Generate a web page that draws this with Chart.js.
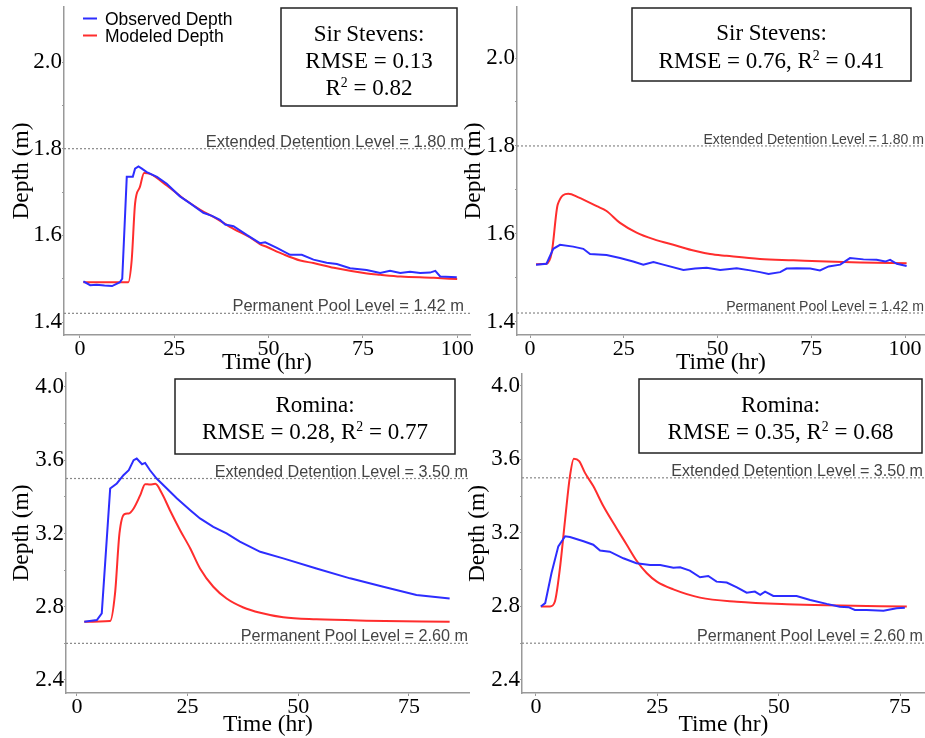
<!DOCTYPE html>
<html>
<head>
<meta charset="utf-8">
<script src="https://cdn.jsdelivr.net/npm/chart.js@4.4.0/dist/chart.umd.min.js"></script>
<style>
  html, body { margin: 0; padding: 0; background: #fff; overflow: hidden; }
  canvas { position: absolute; }
</style>
</head>
<body>
<canvas id="c1" width="482" height="377" style="left:0px;top:0px"></canvas>
<canvas id="c2" width="465" height="377" style="left:460px;top:0px"></canvas>
<canvas id="c3" width="470" height="371" style="left:0px;top:368px"></canvas>
<canvas id="c4" width="465" height="371" style="left:460px;top:368px"></canvas>
<script>
// --- Sir Stevens, event 1 (top left)
const obsHours1 = [0.9, 2.7, 4.4, 6.5, 8.5, 10.6, 11.2, 12.4, 14.0, 14.6, 15.5, 16.4, 17.7, 20.4, 23, 26.5, 29.5, 32.7, 35, 37.1, 38.5, 40.7, 44.2, 47.7, 49.1, 52.2, 55.7, 58.8, 61.9, 65.4, 68.1, 71.6, 76.0, 79.6, 82.2, 84.9, 87.5, 90.2, 92.8, 94.2, 95.5, 99.9];
const obsDepth1 = [1.494, 1.485, 1.486, 1.484, 1.483, 1.492, 1.50, 1.735, 1.735, 1.754, 1.759, 1.754, 1.746, 1.735, 1.719, 1.690, 1.672, 1.652, 1.645, 1.636, 1.625, 1.621, 1.601, 1.582, 1.584, 1.571, 1.555, 1.555, 1.544, 1.537, 1.534, 1.524, 1.520, 1.513, 1.518, 1.513, 1.516, 1.513, 1.514, 1.518, 1.505, 1.503];
const modHours1 = [0.9, 12.8, 13.7, 14.6, 15.9, 17.0, 18.6, 23, 27.4, 31.9, 36.3, 40.7, 45.1, 47.7, 49.6, 54, 58.4, 61.9, 67.3, 76.1, 79.6, 85, 93.8, 100];
const modDepth1 = [1.492, 1.492, 1.542, 1.673, 1.712, 1.744, 1.742, 1.715, 1.685, 1.659, 1.638, 1.615, 1.595, 1.580, 1.573, 1.556, 1.542, 1.536, 1.525, 1.512, 1.509, 1.505, 1.502, 1.499];

// --- Sir Stevens, event 2 (top right)
const obsHours2 = [1.6, 4.4, 6.2, 8.0, 11.5, 14.2, 16.0, 20.4, 24, 27.5, 30.2, 32.9, 35.5, 40.9, 44, 47.1, 50.7, 55.1, 58.7, 61.3, 63.6, 66.7, 68.4, 71.1, 74.7, 77.3, 79.6, 82.7, 85.3, 88.9, 92.4, 94.7, 96, 97.8, 100.4];
const obsDepth2 = [1.530, 1.532, 1.566, 1.575, 1.571, 1.566, 1.554, 1.552, 1.545, 1.537, 1.530, 1.536, 1.530, 1.518, 1.521, 1.523, 1.518, 1.522, 1.517, 1.513, 1.509, 1.513, 1.521, 1.522, 1.521, 1.517, 1.526, 1.530, 1.545, 1.542, 1.541, 1.537, 1.541, 1.532, 1.527];
const modHours2 = [1.6, 4.4, 5.8, 7.4, 10.2, 12.9, 17.8, 20.4, 24, 28.4, 32.9, 39.1, 43.6, 48, 52.4, 61.3, 70.2, 79.1, 88, 100.4];
const modDepth2 = [1.531, 1.532, 1.558, 1.667, 1.691, 1.683, 1.663, 1.652, 1.625, 1.603, 1.588, 1.573, 1.562, 1.554, 1.550, 1.543, 1.540, 1.537, 1.535, 1.533];

// --- Romina, event 1 (bottom left)
const obsHours3 = [1.65, 4.5, 5.6, 7.5, 9, 10.5, 11.7, 12.8, 13.5, 14.7, 15.4, 16.5, 18, 20.3, 22.6, 25.6, 27.8, 30.8, 33.8, 36.8, 41.4, 46.6, 54.1, 61.7, 69.2, 76.7, 84.2];
const obsDepth3 = [2.718, 2.727, 2.764, 3.445, 3.473, 3.518, 3.545, 3.600, 3.609, 3.578, 3.585, 3.545, 3.500, 3.445, 3.391, 3.327, 3.282, 3.236, 3.200, 3.155, 3.100, 3.064, 3.009, 2.955, 2.909, 2.864, 2.845];
const modHours3 = [1.65, 7.5, 8.6, 9.6, 10.7, 11.7, 12.8, 14.3, 15.4, 16.5, 17.7, 19.2, 21, 23.3, 25.6, 27.8, 30.8, 33.8, 37.6, 41.4, 46.6, 54.1, 65.4, 84.2];
const modDepth3 = [2.718, 2.722, 2.873, 3.200, 3.305, 3.309, 3.336, 3.409, 3.469, 3.467, 3.471, 3.418, 3.327, 3.218, 3.118, 3.009, 2.909, 2.845, 2.796, 2.767, 2.742, 2.731, 2.724, 2.718];

// --- Romina, event 2 (bottom right)
const obsHours4 = [1, 1.9, 3.2, 4.6, 6, 7, 9.8, 11.8, 13.2, 15.2, 18.0, 20.7, 23.5, 25.6, 28.3, 29.7, 31.7, 33.8, 35.5, 37.2, 39.3, 41.4, 43.4, 45.1, 46.2, 47.2, 48.9, 53.7, 56.5, 59.9, 62.6, 64.4, 65.7, 68.1, 71.6, 74.3, 76.0];
const obsDepth4 = [2.800, 2.818, 2.982, 3.127, 3.182, 3.178, 3.155, 3.136, 3.104, 3.098, 3.062, 3.035, 3.026, 3.026, 3.011, 3.013, 2.995, 2.959, 2.966, 2.935, 2.930, 2.904, 2.875, 2.881, 2.863, 2.881, 2.857, 2.857, 2.835, 2.814, 2.799, 2.796, 2.781, 2.781, 2.777, 2.790, 2.793];
const modHours4 = [1, 2.9, 3.9, 4.9, 6, 7, 7.8, 8.9, 10.1, 11.8, 13.9, 16.6, 18.7, 20.7, 22.8, 24.9, 28.3, 33.8, 41.4, 51.7, 59.9, 76.4];
const modDepth4 = [2.800, 2.800, 2.827, 3.000, 3.273, 3.509, 3.604, 3.591, 3.527, 3.455, 3.345, 3.226, 3.136, 3.050, 2.982, 2.935, 2.893, 2.848, 2.826, 2.812, 2.806, 2.800];

// axis ticks
const xTicksSir = [0, 25, 50, 75, 100];
const xTicksRom = [0, 25, 50, 75];
const yTicksSir = [1.4, 1.5, 1.6, 1.7, 1.8, 1.9, 2.0];
const yLabelsSir = [1.4, 1.6, 1.8, 2.0];
const yTicksRom = [2.4, 2.6, 2.8, 3.0, 3.2, 3.4, 3.6, 3.8, 4.0];
const yLabelsRom = [2.4, 2.8, 3.2, 3.6, 4.0];

// design levels
const levelsSir = [1.80, 1.42];
const levelsRom = [3.50, 2.60];

const SERIF = '"Liberation Serif", "Times New Roman", serif';
const SANS = '"Liberation Sans", Arial, sans-serif';
const BLUE = 'rgb(45,45,255)';
const RED = 'rgb(255,45,45)';

const panels = [
  { id: 'c1', axisW: 64, padTop: 7, padRight: 12, axisH: 42, yTitlePad: 8, xMin: -4.24, xMax: 103.4, yMin: 1.37, yMax: 2.127,
    obs: [obsHours1, obsDepth1], mod: [modHours1, modDepth1], xTicks: xTicksSir, yTicks: yTicksSir, yLabels: yLabelsSir,
    levels: levelsSir, lvlSize: 16.5, lvlInset: 6, legend: true,
    box: { x1: 281, y1: 8, x2: 457, y2: 106, lines: [[['Sir Stevens:']], [['RMSE = 0.13']], [['R'], ['2', 1], [' = 0.82']]], base: [41, 68, 95] } },
  { id: 'c2', axisW: 57, padTop: 7, padRight: 0, axisH: 42, yTitlePad: 0, xMin: -3.47, xMax: 105.3, yMin: 1.37, yMax: 2.116,
    obs: [obsHours2, obsDepth2], mod: [modHours2, modDepth2], xTicks: xTicksSir, yTicks: yTicksSir, yLabels: yLabelsSir,
    levels: levelsSir, lvlSize: 14.1, lvlInset: 1, legend: false,
    box: { x1: 172, y1: 8, x2: 451, y2: 81, lines: [[['Sir Stevens:']], [['RMSE = 0.76, R'], ['2', 1], [' = 0.41']]], base: [40, 68] } },
  { id: 'c3', axisW: 66, padTop: 5, padRight: 0, axisH: 46, yTitlePad: 8, xMin: -2.48, xMax: 88.8, yMin: 2.329, yMax: 4.076,
    obs: [obsHours3, obsDepth3], mod: [modHours3, modDepth3], xTicks: xTicksRom, yTicks: yTicksRom, yLabels: yLabelsRom,
    levels: levelsRom, lvlSize: 16.2, lvlInset: 2, legend: false,
    box: { x1: 175, y1: 11, x2: 455, y2: 86, lines: [[['Romina:']], [['RMSE = 0.28, R'], ['2', 1], [' = 0.77']]], base: [44, 71] } },
  { id: 'c4', axisW: 62, padTop: 6, padRight: 0, axisH: 46, yTitlePad: 4, xMin: -2.88, xMax: 80.15, yMin: 2.329, yMax: 4.065,
    obs: [obsHours4, obsDepth4], mod: [modHours4, modDepth4], xTicks: xTicksRom, yTicks: yTicksRom, yLabels: yLabelsRom,
    levels: levelsRom, lvlSize: 16.1, lvlInset: 2, legend: false,
    box: { x1: 179, y1: 11, x2: 462, y2: 85, lines: [[['Romina:']], [['RMSE = 0.35, R'], ['2', 1], [' = 0.68']]], base: [44, 71] } }
];

function zip(xs, ys) {
  return xs.map((x, i) => ({ x: x, y: ys[i] }));
}

// text with superscripts, centred on cx
function richText(ctx, parts, cx, base, size) {
  const supSize = size * 0.6;
  let w = 0;
  parts.forEach(p => {
    ctx.font = (p[1] ? supSize : size) + 'px ' + SERIF;
    w += ctx.measureText(p[0]).width;
  });
  let x = cx - w / 2;
  ctx.textAlign = 'left';
  ctx.textBaseline = 'alphabetic';
  parts.forEach(p => {
    ctx.font = (p[1] ? supSize : size) + 'px ' + SERIF;
    ctx.fillText(p[0], x, p[1] ? base - size * 0.36 : base);
    x += ctx.measureText(p[0]).width;
  });
}

const decor = {
  id: 'decor',
  afterDatasetsDraw(chart) {
    const p = chart.config.options.panel;
    const ctx = chart.ctx;
    const area = chart.chartArea;
    const y = chart.scales.y;
    ctx.save();
    // level labels
    ctx.font = p.lvlSize + 'px ' + SANS;
    ctx.fillStyle = '#444';
    ctx.textAlign = 'right';
    ctx.textBaseline = 'alphabetic';
    const names = ['Extended Detention Level', 'Permanent Pool Level'];
    p.levels.forEach((lv, i) => {
      ctx.fillText(names[i] + ' = ' + lv.toFixed(2) + ' m', area.right - p.lvlInset, y.getPixelForValue(lv) - 2);
    });
    // statistics box
    const b = p.box;
    ctx.fillStyle = '#fff';
    ctx.fillRect(b.x1, b.y1, b.x2 - b.x1, b.y2 - b.y1);
    ctx.strokeStyle = '#222';
    ctx.lineWidth = 1.5;
    ctx.strokeRect(b.x1, b.y1, b.x2 - b.x1, b.y2 - b.y1);
    ctx.fillStyle = '#000';
    b.lines.forEach((ln, i) => richText(ctx, ln, (b.x1 + b.x2) / 2, b.base[i], 23));
    // legend
    if (p.legend) {
      const items = [['Observed Depth', BLUE, 18.5], ['Modeled Depth', RED, 35.5]];
      ctx.font = '17.5px ' + SANS;
      ctx.textAlign = 'left';
      items.forEach(it => {
        ctx.strokeStyle = it[1];
        ctx.lineWidth = 2;
        ctx.beginPath();
        ctx.moveTo(83, it[2]);
        ctx.lineTo(97, it[2]);
        ctx.stroke();
        ctx.fillStyle = '#000';
        ctx.fillText(it[0], 105, it[2] + 6.5);
      });
    }
    ctx.restore();
  }
};

function near(list, v) {
  return list.some(t => Math.abs(t - v) < 1e-6);
}

panels.forEach(p => {
  const levelSets = p.levels.map(lv => ({
    data: [{ x: p.xMin, y: lv }, { x: p.xMax, y: lv }],
    borderColor: '#888', borderWidth: 1.2, borderDash: [2, 2]
  }));
  new Chart(document.getElementById(p.id), {
    type: 'line',
    data: {
      datasets: [
        { label: 'Observed Depth', data: zip(p.obs[0], p.obs[1]), borderColor: BLUE, borderWidth: 2 },
        { label: 'Modeled Depth', data: zip(p.mod[0], p.mod[1]), borderColor: RED, borderWidth: 2, cubicInterpolationMode: 'monotone' }
      ].concat(levelSets)
    },
    options: {
      panel: p,
      responsive: false,
      animation: false,
      layout: { padding: { top: p.padTop, left: 0, right: p.padRight, bottom: 0 } },
      elements: { point: { radius: 0 }, line: { tension: 0 } },
      plugins: { legend: { display: false }, tooltip: { enabled: false } },
      scales: {
        x: {
          type: 'linear', min: p.xMin, max: p.xMax,
          afterBuildTicks: s => { s.ticks = p.xTicks.map(v => ({ value: v })); },
          afterFit: s => { s.height = p.axisH; s.paddingLeft = 0; s.paddingRight = 0; },
          grid: { drawOnChartArea: false, tickLength: 3, color: '#999' },
          border: { color: '#999', width: 1.5 },
          ticks: { font: { family: SERIF, size: 22 }, color: '#000', padding: -2, maxRotation: 0, autoSkip: false },
          title: { display: true, text: 'Time (hr)', font: { family: SERIF, size: 23.5 }, color: '#000', padding: 0 }
        },
        y: {
          type: 'linear', min: p.yMin, max: p.yMax,
          afterBuildTicks: s => { s.ticks = p.yTicks.map(v => ({ value: v })); },
          afterFit: s => { s.width = p.axisW; s.paddingTop = 0; s.paddingBottom = 0; },
          grid: { drawOnChartArea: false, tickLength: 2, color: '#999' },
          border: { color: '#999', width: 1.5 },
          ticks: {
            font: { family: SERIF, size: 23 }, color: '#000', padding: 0, autoSkip: false,
            callback: v => near(p.yLabels, v) ? v.toFixed(1) : ''
          },
          title: { display: true, text: 'Depth (m)', font: { family: SERIF, size: 23.5 }, color: '#000', padding: { top: p.yTitlePad, bottom: 0 } }
        }
      }
    },
    plugins: [decor]
  });
});
</script>
</body>
</html>
